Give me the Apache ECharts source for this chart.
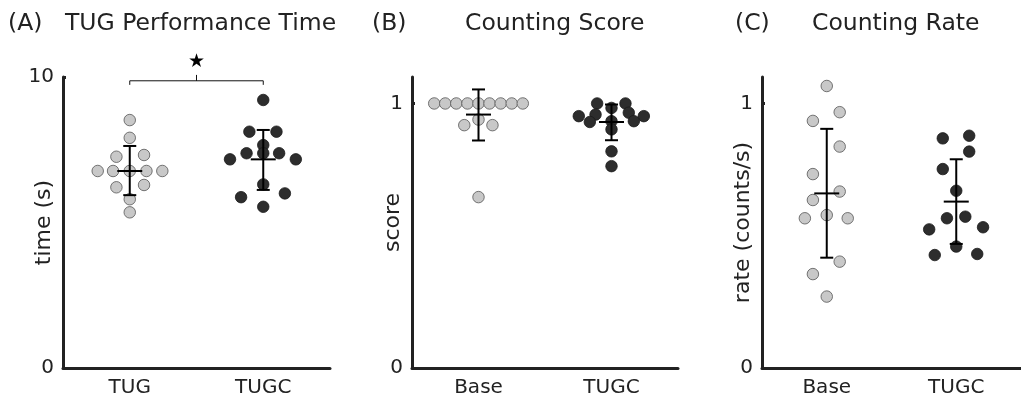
<!DOCTYPE html>
<html>
<head>
<meta charset="utf-8">
<script src="https://cdn.jsdelivr.net/npm/echarts@6/dist/echarts.min.js"></script>
<style>
html,body{margin:0;padding:0;background:#fff;}
#c{width:1021px;height:398px;}
</style>
</head>
<body>
<div id="c"></div>
<script>
// ---------------- data ----------------
const panelLetters = ['(A)', '(B)', '(C)'];
const panelTitles = ['TUG Performance Time', 'Counting Score', 'Counting Rate'];
const yNames = ['time (s)', 'score', 'rate (counts/s)'];
const catsA = ['TUG', 'TUGC'];
const catsB = ['Base', 'TUGC'];
const catsC = ['Base', 'TUGC'];
const yTicksA = [0, 10];
const yTicksB = [0, 1];
const yTicksC = [0, 1];

// Panel A: TUG time (s) and beeswarm offsets (category units)
const tugTime = [8.52, 7.91, 7.26, 7.32, 6.77, 6.77, 6.77, 6.77, 6.77, 6.21, 6.29, 5.80, 5.35];
const tugOff  = [0, 0, -0.10, 0.107, -0.24, -0.125, 0, 0.125, 0.244, -0.10, 0.107, 0, 0];
const tugcTime = [9.21, 8.12, 8.12, 7.66, 7.38, 7.38, 7.38, 7.17, 7.17, 6.31, 6.00, 5.87, 5.54];
const tugcOff  = [0, -0.104, 0.099, 0, -0.125, 0, 0.119, -0.249, 0.244, 0, 0.162, -0.166, 0];
const meanA = [6.77, 7.17];
const lowA  = [5.94, 6.12];
const highA = [7.63, 8.18];
// significance bracket (A)
const bracketY = 9.87, bracketEndY = 9.73, bracketPeakY = 10.07, starY = 10.53;

// Panel B: counting score
const baseScore = [1, 1, 1, 1, 1, 1, 1, 1, 1, 0.939, 0.918, 0.918, 0.646];
const baseScoreOff = [-0.333, -0.25, -0.167, -0.083, 0, 0.083, 0.167, 0.25, 0.333, 0, -0.107, 0.105, 0];
const tugcScore = [1.0, 1.0, 0.983, 0.952, 0.958, 0.965, 0.952, 0.930, 0.933, 0.933, 0.902, 0.819, 0.763];
const tugcScoreOff = [-0.108, 0.105, 0, -0.246, -0.12, 0.13, 0.243, -0.163, 0.168, 0, 0, 0, 0];
const meanB = [0.958, 0.930];
const lowB  = [0.860, 0.861];
const highB = [1.053, 0.996];

// Panel C: counting rate (counts/s)
const baseRate = [1.066, 0.967, 0.934, 0.837, 0.733, 0.667, 0.635, 0.566, 0.578, 0.566, 0.402, 0.355, 0.270];
const baseRateOff = [0, 0.1, -0.107, 0.1, -0.107, 0.1, -0.107, -0.169, 0, 0.162, 0.1, -0.107, 0];
const tugcRate = [0.868, 0.878, 0.818, 0.752, 0.670, 0.566, 0.572, 0.524, 0.532, 0.459, 0.427, 0.431];
const tugcRateOff = [-0.104, 0.1, 0.1, -0.104, 0, -0.072, 0.07, -0.209, 0.207, 0, -0.166, 0.162];
const meanC = [0.660, 0.629];
const lowC  = [0.417, 0.469];
const highC = [0.904, 0.789];

// ---------------- styling ----------------
const FONT = 'DejaVu Sans';
const INK = '#222';
const LIGHT = '#c8c8c8';
const DARK = '#2d2d2d';

const chart = echarts.init(document.getElementById('c'), null, {renderer: 'canvas'});

const grids = [
  {left: 63, top: 77, width: 267, height: 291},
  {left: 412, top: 77, width: 266, height: 291},
  {left: 762, top: 77, width: 268, height: 291}
];
const yMax = [10, 1.1, 1.1];
const yTicks = [yTicksA, yTicksB, yTicksC];
const cats = [catsA, catsB, catsC];

const xAxes = cats.map((c, i) => ({
  type: 'value', gridIndex: i, min: 0.5, max: 2.5,
  splitLine: {show: false},
  axisLine: {show: true, lineStyle: {color: INK, width: 3}},
  axisTick: {show: false},
  axisLabel: {
    customValues: [1, 2],
    formatter: v => c[Math.round(v) - 1] || '',
    fontFamily: FONT, fontSize: 20, color: INK, margin: 10
  }
}));
const yAxes = yTicks.map((t, i) => ({
  type: 'value', gridIndex: i, min: 0, max: yMax[i],
  name: yNames[i], nameLocation: 'middle', nameGap: 8, nameMoveOverlap: false,
  nameTextStyle: {fontFamily: FONT, fontSize: 22, color: INK},
  splitLine: {show: false},
  axisLine: {show: true, lineStyle: {color: INK, width: 3}},
  axisTick: {show: true, inside: true, length: 3, customValues: t, lineStyle: {color: INK, width: 3}},
  axisLabel: {customValues: t, fontFamily: FONT, fontSize: 20, color: INK, margin: 9}
}));

function swarm(vals, offs, cat) {
  return vals.map((v, k) => [cat + offs[k], v]);
}
function pts(gi, vals, offs, cat, dark) {
  return {
    type: 'scatter', xAxisIndex: gi, yAxisIndex: gi,
    data: swarm(vals, offs, cat), symbolSize: 11.5, clip: false,
    itemStyle: dark ? {color: DARK, borderColor: '#1a1a1a', borderWidth: 0.8, opacity: 1}
                    : {color: LIGHT, borderColor: '#555', borderWidth: 0.8, opacity: 1},
    z: 2
  };
}
function errBars(gi, means, lows, highs) {
  return {
    type: 'custom', xAxisIndex: gi, yAxisIndex: gi, z: 5, clip: false,
    data: means.map((m, k) => [k + 1, m, lows[k], highs[k]]),
    renderItem: (params, api) => {
      const x = api.value(0);
      const pm = api.coord([x, api.value(1)]);
      const pl = api.coord([x, api.value(2)]);
      const ph = api.coord([x, api.value(3)]);
      const st = {stroke: '#000', lineWidth: 2};
      const cap = 6.5, mw = 12.5;
      return {type: 'group', children: [
        {type: 'line', shape: {x1: pl[0], y1: pl[1], x2: ph[0], y2: ph[1]}, style: st},
        {type: 'line', shape: {x1: pl[0] - cap, y1: pl[1], x2: pl[0] + cap, y2: pl[1]}, style: st},
        {type: 'line', shape: {x1: ph[0] - cap, y1: ph[1], x2: ph[0] + cap, y2: ph[1]}, style: st},
        {type: 'line', shape: {x1: pm[0] - mw, y1: pm[1], x2: pm[0] + mw, y2: pm[1]}, style: st}
      ]};
    }
  };
}

const series = [
  pts(0, tugTime, tugOff, 1, false),
  pts(0, tugcTime, tugcOff, 2, true),
  errBars(0, meanA, lowA, highA),
  pts(1, baseScore, baseScoreOff, 1, false),
  pts(1, tugcScore, tugcScoreOff, 2, true),
  errBars(1, meanB, lowB, highB),
  pts(2, baseRate, baseRateOff, 1, false),
  pts(2, tugcRate, tugcRateOff, 2, true),
  errBars(2, meanC, lowC, highC),
  // significance bracket
  {
    type: 'line', xAxisIndex: 0, yAxisIndex: 0, clip: false, symbol: 'none', silent: true,
    lineStyle: {color: '#111', width: 1},
    data: [[1, bracketEndY], [1, bracketY], [1.5, bracketY], [1.5, bracketPeakY], [1.5, bracketY], [2, bracketY], [2, bracketEndY]]
  },
  {
    type: 'custom', xAxisIndex: 0, yAxisIndex: 0, clip: false, z: 6,
    data: [[1.5, starY]],
    renderItem: (params, api) => {
      const p = api.coord([api.value(0), api.value(1)]);
      return {type: 'text', x: p[0], y: p[1], style: {text: '★', fontSize: 19, fontFamily: FONT, fill: '#000', align: 'center', verticalAlign: 'middle'}};
    }
  }
];

const titleLeft = [[8, 65], [372, 465], [735, 812]];
const titles = [];
panelLetters.forEach((l, i) => {
  titles.push({text: l, left: titleLeft[i][0], top: 12, textStyle: {fontFamily: FONT, fontSize: 23.5, fontWeight: 'normal', color: INK}, padding: 0});
  titles.push({text: panelTitles[i], left: titleLeft[i][1], top: 12, textStyle: {fontFamily: FONT, fontSize: 23.5, fontWeight: 'normal', color: INK}, padding: 0});
});

chart.setOption({
  animation: false,
  backgroundColor: '#fff',
  title: titles,
  grid: grids,
  xAxis: xAxes,
  yAxis: yAxes,
  series: series
});
</script>
</body>
</html>
